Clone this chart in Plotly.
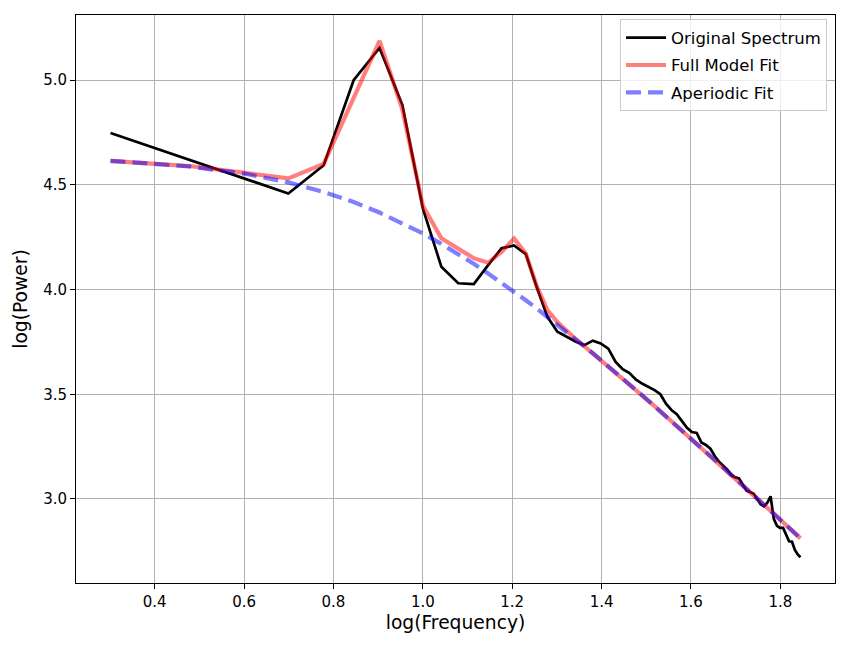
import numpy as np
import plotly.graph_objects as go

# Frequencies (Hz)
freqs_orig = [2] + list(range(5, 71))
freqs_model = list(range(2, 71))

# log10 power of the original spectrum (at freqs_orig)
power_orig = [
    4.748, 4.459, 4.594, 5.000, 5.154, 4.881, 4.388, 4.109, 4.030, 4.026,
    4.117, 4.197, 4.211, 4.169, 4.009, 3.870, 3.799, 3.775, 3.751, 3.735,
    3.756, 3.743, 3.718, 3.655, 3.620, 3.601, 3.570, 3.550, 3.536, 3.520,
    3.500, 3.455, 3.425, 3.405, 3.372, 3.340, 3.320, 3.315, 3.270, 3.258,
    3.240, 3.205, 3.178, 3.160, 3.140, 3.115, 3.103, 3.098, 3.065, 3.040,
    3.033, 3.025, 3.000, 2.975, 2.965, 2.982, 3.013, 2.905, 2.872, 2.862,
    2.862, 2.825, 2.798, 2.796, 2.757, 2.735, 2.722,
]

# Full model fit (at freqs_model)
power_full = [
    4.615, 4.590, 4.557, 4.531, 4.600, 4.920, 5.188, 4.860, 4.400, 4.245,
    4.195, 4.150, 4.128, 4.180, 4.244, 4.172, 4.014, 3.902, 3.845, 3.800,
    3.763, 3.729, 3.696, 3.664, 3.634, 3.604, 3.575, 3.547, 3.520, 3.494,
    3.468, 3.443, 3.419, 3.395, 3.372, 3.350, 3.328, 3.306, 3.285, 3.265,
    3.245, 3.225, 3.206, 3.187, 3.169, 3.150, 3.133, 3.115, 3.098, 3.082,
    3.065, 3.049, 3.033, 3.018, 3.003, 2.987, 2.973, 2.958, 2.944, 2.930,
    2.916, 2.902, 2.889, 2.876, 2.863, 2.850, 2.837, 2.825, 2.812,
]

# Aperiodic fit (at freqs_model)
power_ap = [
    4.615, 4.588, 4.553, 4.512, 4.466, 4.418, 4.368, 4.318, 4.268, 4.218,
    4.170, 4.123, 4.077, 4.033, 3.990, 3.949, 3.909, 3.870, 3.833, 3.797,
    3.762, 3.729, 3.696, 3.664, 3.634, 3.604, 3.575, 3.547, 3.520, 3.494,
    3.468, 3.443, 3.419, 3.395, 3.372, 3.350, 3.328, 3.306, 3.285, 3.265,
    3.245, 3.225, 3.206, 3.187, 3.169, 3.150, 3.133, 3.115, 3.098, 3.082,
    3.065, 3.049, 3.033, 3.018, 3.003, 2.987, 2.973, 2.958, 2.944, 2.930,
    2.916, 2.902, 2.889, 2.876, 2.863, 2.850, 2.837, 2.825, 2.812,
]

x_ticks = [0.4, 0.6, 0.8, 1.0, 1.2, 1.4, 1.6, 1.8]
y_ticks = [3.0, 3.5, 4.0, 4.5, 5.0]

x_orig = np.log10(freqs_orig)
x_model = np.log10(freqs_model)

FONT = "DejaVu Sans"

fig = go.Figure()
fig.add_trace(go.Scatter(x=x_orig, y=power_orig, mode="lines", name="Original Spectrum",
                         legendgroup="a", line=dict(color="black", width=2.7)))
fig.add_trace(go.Scatter(x=x_model, y=power_full, mode="lines", name="Full Model Fit",
                         legendgroup="b", line=dict(color="rgba(255,0,0,0.5)", width=4.2)))
fig.add_trace(go.Scatter(x=x_model, y=power_ap, mode="lines", name="Aperiodic Fit",
                         legendgroup="c",
                         line=dict(color="rgba(0,0,255,0.5)", width=4.2, dash="15px,7px")))

xmin, xmax = min(x_orig.min(), x_model.min()), max(x_orig.max(), x_model.max())
allv = power_orig + power_full + power_ap
ymin, ymax = min(allv), max(allv)
xpad = 0.05 * (xmax - xmin)
ypad = 0.05 * (ymax - ymin)

axis_common = dict(
    showgrid=True, gridcolor="#b0b0b0", gridwidth=1,
    showline=True, linecolor="black", linewidth=1, mirror=True,
    ticks="outside", ticklen=5, tickwidth=1, tickcolor="black",
    zeroline=False,
    tickfont=dict(family=FONT, size=15, color="black"),
)

fig.update_layout(
    width=850, height=650,
    margin=dict(l=76, r=15, t=15, b=67),
    paper_bgcolor="white", plot_bgcolor="white",
    font=dict(family=FONT, color="black"),
    xaxis=dict(range=[xmin - xpad, xmax + xpad], tickvals=x_ticks,
               ticktext=[f"{v:.1f}" for v in x_ticks],
               title=dict(text="log(Frequency)", font=dict(family=FONT, size=18.7), standoff=5),
               **axis_common),
    yaxis=dict(range=[ymin - ypad, ymax + ypad], tickvals=y_ticks,
               ticktext=[f"{v:.1f}" for v in y_ticks],
               title=dict(text="log(Power)", font=dict(family=FONT, size=18.7), standoff=10),
               **axis_common),
    legend=dict(x=0.9895, y=0.9924, xanchor="right", yanchor="top",
                bgcolor="rgba(255,255,255,0.8)", bordercolor="#cccccc", borderwidth=1,
                itemwidth=40, traceorder="grouped", tracegroupgap=3,
                font=dict(family=FONT, size=16.5, color="black")),
    showlegend=True,
)

fig.write_html("out.html")
